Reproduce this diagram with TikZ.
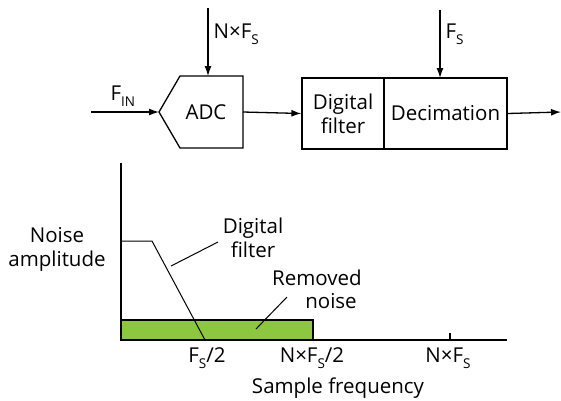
\documentclass[tikz,border=0pt]{standalone}
\usepackage{fontspec}
\setmainfont{Open Sans}
\usetikzlibrary{arrows.meta}
\newcommand\subs[1]{\raisebox{-0.3em}{\fontsize{13.5}{13.5}\selectfont #1}}
\begin{document}
\begin{tikzpicture}[x=1pt,y=-1pt,
  line width=1.3pt,
  every node/.style={font=\fontsize{20.5}{24}\selectfont, inner sep=0pt},
  arr/.style={-{Latex[length=10pt,width=7pt]}},
  blk/.style={draw, rectangle, minimum height=71pt, align=center},
  lbl/.style={align=center},
  thin/.style={line width=1pt}]
\useasboundingbox (0,0) rectangle (561,400);
% ADC
\coordinate (adcin) at (159,112);
\coordinate (adcout) at (243,112);
\coordinate (adctop) at (208,76);
\draw (adcin) -- (180,76) -- (243,76) -- (243,148) -- (180,148) -- cycle;
\node (adc) at (206,112) {ADC};
\coordinate (finstart) at (91,112);
\draw[arr] (finstart) -- (adcin);
\node[anchor=base west] (fin) at (110,100) {F\subs{IN}};
\coordinate (nfstart) at (208,8);
\draw[arr] (nfstart) -- (adctop);
\node[anchor=base west] (nfs) at (213,38) {N×F\subs{S}};
% filter + decimation
\node[blk, minimum width=82pt] (dfilt) at (343,113.5) {Digital\\filter};
\node[blk, minimum width=123pt] (dec) at (445.5,113.5) {Decimation};
\draw[arr] (adcout) -- (dfilt.west);
\coordinate (fsstart) at (440,10);
\coordinate (fsend) at (440,78);
\draw[arr] (fsstart) -- (fsend);
\node[anchor=base west] (fs) at (445,38) {F\subs{S}};
\coordinate (outend) at (561,112);
\draw[arr] (dec.east) -- (outend);
% plot
\coordinate (orig) at (121,340);
\coordinate (ytop) at (121,163);
\coordinate (xend) at (507,340);
\fill[fill={rgb,255:red,141;green,198;blue,63}, draw=black] (121,320) rectangle (313,340);
\draw (ytop) -- (orig) -- (xend);
\draw (450,333) -- (450,340);
\draw[thin] (121,241) -- (152,241) -- (205,340);
% labels
\node[lbl] (noise) at (57,249) {Noise\\amplitude};
\node[lbl] (dflbl) at (253,238) {Digital\\filter};
\draw[thin] (171,266) -- (218,242);
\node[lbl, anchor=base] (rmlbl) at (317,285) {Removed};
\node[lbl, anchor=base] (nslbl) at (331,308) {noise};
\draw[thin] (256,329) -- (287,297);
\node[anchor=base] (l1) at (207,362) {F\subs{S}/2};
\node[anchor=base] (l2) at (312,362) {N×F\subs{S}/2};
\node[anchor=base] (l3) at (448,362) {N×F\subs{S}};
\node[anchor=base] (sf) at (338,393) {Sample frequency};
\end{tikzpicture}
\end{document}
